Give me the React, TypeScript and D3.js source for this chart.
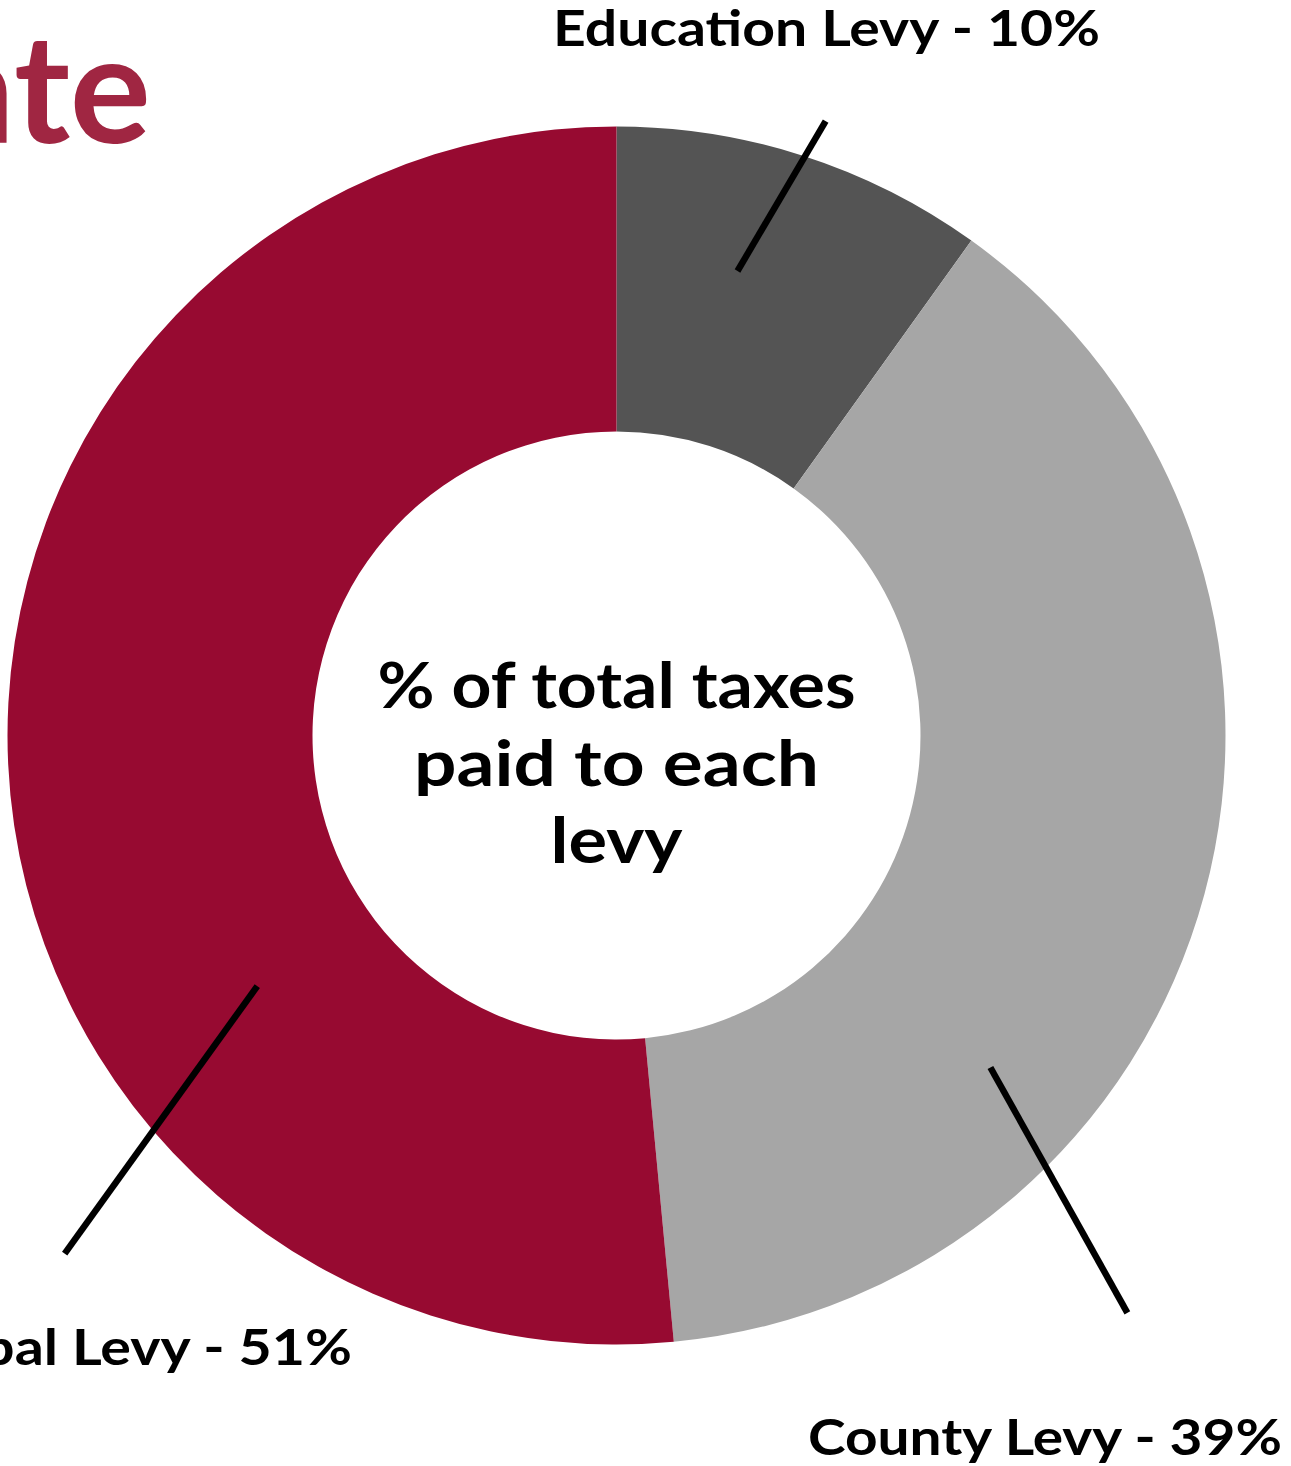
import React from "react";
import * as d3 from "d3";

const categories = ["Education Levy", "County Levy", "Municipal Levy"];
const shares = [9.9, 38.6, 51.5];
const shareLabels = ["10%", "39%", "51%"];
const colors = ["#545454", "#A6A6A6", "#970A31"];
const centerLines = ["% of total taxes", "paid to each", "levy"];
const titleText = "ate";

const W = 1291;
const H = 1466;
const CX = 616.5;
const CY = 735.5;
const R_OUT = 609;
const R_IN = 304;

// leader lines in polar form (degrees clockwise from top, radius px)
const leaders = [
  { a0: 14.6, r0: 480, a1: 18.8, r1: 649 },
  { a0: 131.6, r0: 500, a1: 138.5, r1: 771 },
  { a0: 235.1, r0: 438, a1: 226.8, r1: 757 },
];
// label placement
const labelPos = [
  { x: 826.5, y: 46, anchor: "middle", len: 547 },
  { x: 808, y: 1455, anchor: "start", len: 474 },
  { x: 352, y: 1365, anchor: "end", len: 545 },
];
const centerLens = [478, 405, 132];

const FONT = "Lato, 'DejaVu Sans', sans-serif";

function polar(aDeg: number, r: number): [number, number] {
  const a = (aDeg * Math.PI) / 180;
  return [CX + r * Math.sin(a), CY - r * Math.cos(a)];
}

export default function App() {
  const pie = d3.pie<number>().sort(null).value((d) => d).startAngle(0).endAngle(2 * Math.PI);
  const arcs = pie(shares);
  const arc = d3.arc<d3.PieArcDatum<number>>().innerRadius(R_IN).outerRadius(R_OUT);

  return (
    <svg
      width={W}
      height={H}
      viewBox={`0 0 ${W} ${H}`}
      style={{ position: "absolute", left: 0, top: 0, background: "#fff" }}
    >
      <rect x={0} y={0} width={W} height={H} fill="#fff" />
      <text
        x={151}
        y={143}
        textAnchor="end"
        fontFamily={FONT}
        fontWeight={700}
        fontSize={152}
        fill="#A02642"
      >
        {titleText}
      </text>
      <g transform={`translate(${CX},${CY})`}>
        {arcs.map((d, i) => (
          <path key={i} d={arc(d) || ""} fill={colors[i]} />
        ))}
      </g>
      {leaders.map((l, i) => {
        const [x0, y0] = polar(l.a0, l.r0);
        const [x1, y1] = polar(l.a1, l.r1);
        return <line key={i} x1={x0} y1={y0} x2={x1} y2={y1} stroke="#000" strokeWidth={6.5} />;
      })}
      {categories.map((c, i) => (
        <text
          key={c}
          x={labelPos[i].x}
          y={labelPos[i].y}
          textAnchor={labelPos[i].anchor as any}
          textLength={labelPos[i].len}
          lengthAdjust="spacingAndGlyphs"
          fontFamily={FONT}
          fontWeight={700}
          fontSize={50}
          fill="#000"
        >
          {`${c} - ${shareLabels[i]}`}
        </text>
      ))}
      {centerLines.map((t, i) => (
        <text
          key={i}
          x={CX}
          y={708 + i * 77.5}
          textAnchor="middle"
          textLength={centerLens[i]}
          lengthAdjust="spacingAndGlyphs"
          fontFamily={FONT}
          fontWeight={700}
          fontSize={64}
          fill="#000"
        >
          {t}
        </text>
      ))}
    </svg>
  );
}
